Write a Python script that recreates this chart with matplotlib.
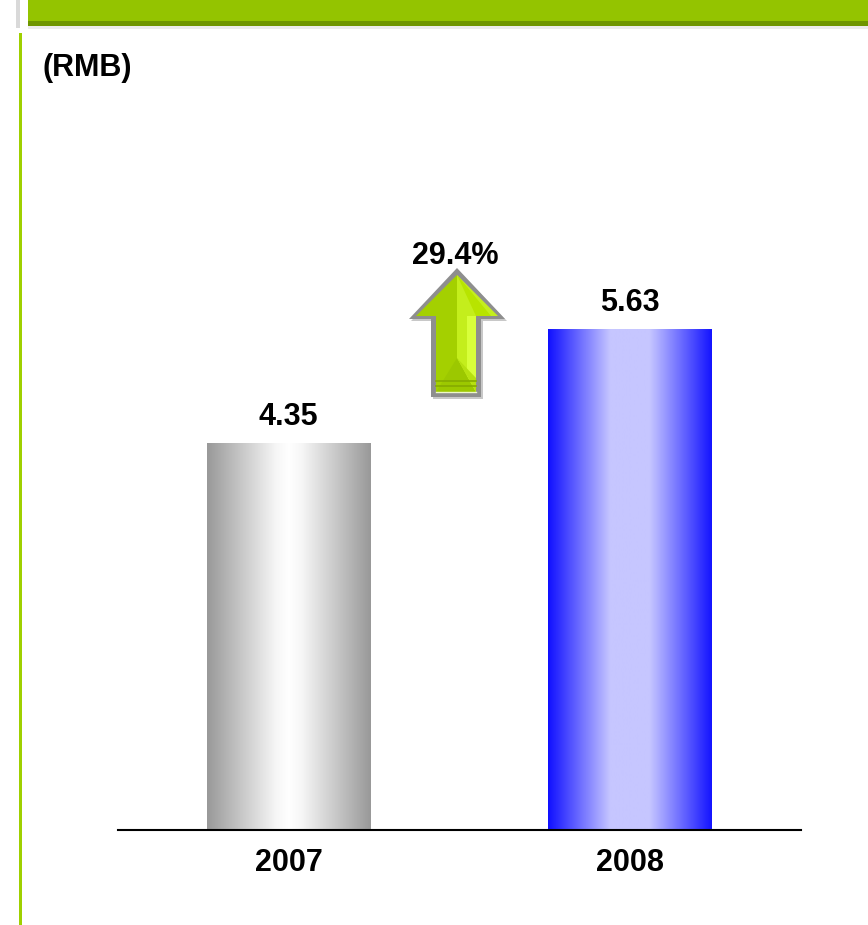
import matplotlib.pyplot as plt
import numpy as np
from matplotlib.colors import LinearSegmentedColormap
from matplotlib.patches import Polygon, Rectangle

plt.rcParams['font.family'] = ['Liberation Sans', 'DejaVu Sans']

# earnings per share, RMB
years = ['2007', '2008']
eps = [4.35, 5.63]
unit_label = '(RMB)'

growth = (eps[1] / eps[0] - 1) * 100

W, H = 868, 925
fig = plt.figure(figsize=(W / 100, H / 100), dpi=100)
fig.patch.set_facecolor('white')

# ---------------------------------------------------------------
# bar chart
ax = fig.add_axes([118 / W, (H - 830) / H, 683 / W, 623 / H])

grey_cm = LinearSegmentedColormap.from_list('grey', [
	(0.0, '#999999'), (0.42, '#f6f6f6'), (0.5, '#ffffff'),
	(0.58, '#f6f6f6'), (1.0, '#999999')])
blue_cm = LinearSegmentedColormap.from_list('blue', [
	(0.0, '#1010ff'), (0.38, '#c6c6ff'), (0.62, '#c6c6ff'),
	(1.0, '#1414ff')])
cmaps = [grey_cm, blue_cm]

grad = np.linspace(0, 1, 256).reshape(1, -1)
bars = ax.bar(range(len(years)), eps, width=0.48, color='none', edgecolor='none')
for b, cm in zip(bars, cmaps):
	x0, y0 = b.get_x(), b.get_y()
	im = ax.imshow(grad, cmap=cm, aspect='auto', interpolation='bilinear',
				extent=[x0, x0 + b.get_width(), y0, y0 + b.get_height()], zorder=2)
	im.set_clip_path(b)

for i, v in enumerate(eps):
	ax.annotate('%.2f' % v, (i, v), xytext=(0, 8), textcoords='offset points',
				ha='center', va='bottom', fontsize=22, fontweight='bold')

ax.set_xlim(-0.5, 1.5)
ax.set_ylim(0, 7)
ax.set_xticks(range(len(years)))
ax.set_xticklabels(years, fontsize=22, fontweight='bold')
ax.tick_params(axis='x', length=0, pad=13)
ax.set_yticks([])
for s in ['left', 'right', 'top']:
	ax.spines[s].set_visible(False)
ax.spines['bottom'].set_linewidth(1.5)
ax.spines['bottom'].set_color('black')
ax.patch.set_alpha(0)

# ---------------------------------------------------------------
# slide decoration, pixel coordinates
deco = fig.add_axes([0, 0, 1, 1], zorder=-1)
deco.set_xlim(0, W)
deco.set_ylim(H, 0)
deco.axis('off')

deco.add_patch(Rectangle((16, 0), 4, 28, color='#d9d9d9', lw=0))
deco.add_patch(Rectangle((28, 0), W - 28, 21, color='#94c400', lw=0))
deco.add_patch(Rectangle((28, 21), W - 28, 5, color='#6f9600', lw=0))
deco.add_patch(Rectangle((28, 26), W - 28, 3, color='#ececec', lw=0))
deco.add_patch(Rectangle((19, 33), 3, H - 33, color='#9fd000', lw=0))

deco.text(43, 68, unit_label, ha='left', va='center', fontsize=22, fontweight='bold')

# growth arrow
arr = fig.add_axes([0, 0, 1, 1], zorder=5)
arr.set_xlim(0, W)
arr.set_ylim(H, 0)
arr.axis('off')

cx = 457
shadow = [(cx + 2, 271), (409 + 2, 321), (431 + 2, 321), (431 + 2, 399),
		(481 + 2, 399), (481 + 2, 321), (505 + 2, 321)]
outline = [(cx, 268), (409, 319), (431, 319), (431, 397),
		(481, 397), (481, 319), (505, 319)]
arr.add_patch(Polygon(shadow, closed=True, color='#c8c8c8', lw=0))
arr.add_patch(Polygon(outline, closed=True, color='#8e8e8e', lw=0))

# left and right faces of the arrow
left_face = [(cx, 275), (416, 316), (436, 316), (436, 392), (cx, 392)]
right_face = [(cx, 275), (498, 316), (476, 316), (476, 392), (cx, 392)]
arr.add_patch(Polygon(left_face, closed=True, color='#a4d000', lw=0))
arr.add_patch(Polygon(right_face, closed=True, color='#c4ee1c', lw=0))
arr.add_patch(Polygon([(cx, 275), (cx + 6, 282), (491, 316), (476, 316)],
					closed=True, color='#b8e400', lw=0))
arr.add_patch(Rectangle((467, 316), 9, 76, color='#d8ff3a', lw=0))
# bevel at the foot of the shaft
arr.add_patch(Polygon([(436, 392), (cx, 358), (476, 392)], closed=True,
					color='#9cc800', lw=0))
arr.add_patch(Polygon([(cx, 358), (476, 392), (476, 378)], closed=True,
					color='#b6e010', lw=0))
for yy in [381, 386]:
	arr.plot([436, 476], [yy, yy], color='#86ab00', lw=1.2)
arr.plot([436, 476], [392, 392], color='#eef8c8', lw=1.0)

arr.text(455, 256, '%.1f%%' % growth, ha='center', va='center',
		fontsize=22, fontweight='bold')

fig.savefig('out.png', dpi=100, facecolor='white')
